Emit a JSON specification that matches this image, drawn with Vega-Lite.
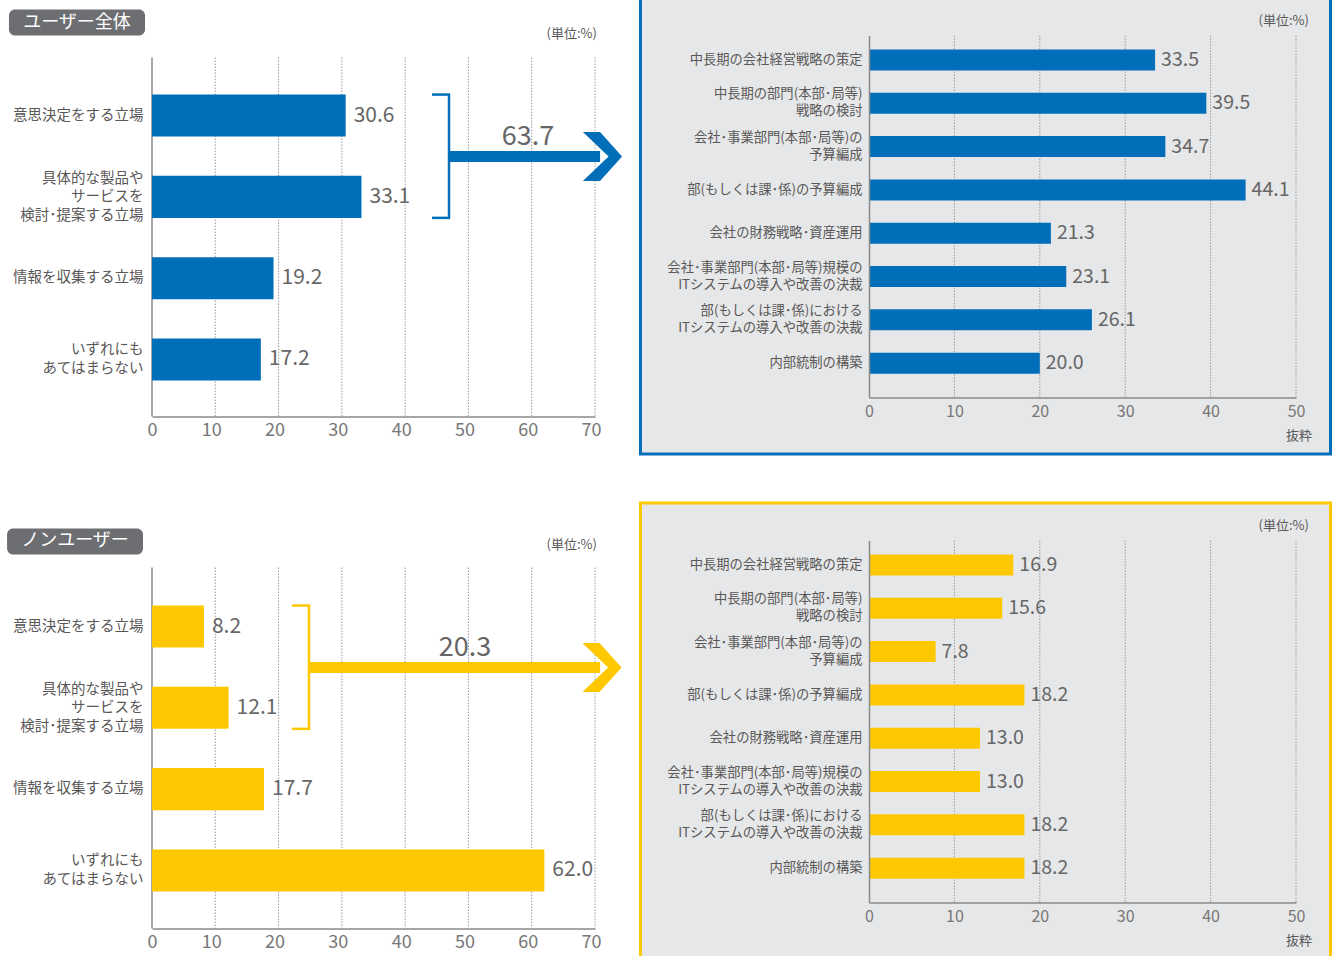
{
  "$schema": "https://vega.github.io/schema/vega-lite/v6.json",
  "padding": {"left": 7, "top": -4.5, "right": 0, "bottom": 0},
  "config": {"view": {"stroke": null}, "font": "Noto Sans CJK JP"},
  "datasets": {
    "userAll": [
      {"cat": "意思決定をする立場", "v": 30.6},
      {"cat": "具体的な製品や|サービスを|検討･提案する立場", "v": 33.1},
      {"cat": "情報を収集する立場", "v": 19.2},
      {"cat": "いずれにも|あてはまらない", "v": 17.2}
    ],
    "nonUser": [
      {"cat": "意思決定をする立場", "v": 8.2},
      {"cat": "具体的な製品や|サービスを|検討･提案する立場", "v": 12.1},
      {"cat": "情報を収集する立場", "v": 17.7},
      {"cat": "いずれにも|あてはまらない", "v": 62.0}
    ],
    "userDetail": [
      {"cat": "中長期の会社経営戦略の策定", "v": 33.5},
      {"cat": "中長期の部門(本部･局等)|戦略の検討", "v": 39.5},
      {"cat": "会社･事業部門(本部･局等)の|予算編成", "v": 34.7},
      {"cat": "部(もしくは課･係)の予算編成", "v": 44.1},
      {"cat": "会社の財務戦略･資産運用", "v": 21.3},
      {"cat": "会社･事業部門(本部･局等)規模の|ITシステムの導入や改善の決裁", "v": 23.1},
      {"cat": "部(もしくは課･係)における|ITシステムの導入や改善の決裁", "v": 26.1},
      {"cat": "内部統制の構築", "v": 20.0}
    ],
    "nonDetail": [
      {"cat": "中長期の会社経営戦略の策定", "v": 16.9},
      {"cat": "中長期の部門(本部･局等)|戦略の検討", "v": 15.6},
      {"cat": "会社･事業部門(本部･局等)の|予算編成", "v": 7.8},
      {"cat": "部(もしくは課･係)の予算編成", "v": 18.2},
      {"cat": "会社の財務戦略･資産運用", "v": 13.0},
      {"cat": "会社･事業部門(本部･局等)規模の|ITシステムの導入や改善の決裁", "v": 13.0},
      {"cat": "部(もしくは課･係)における|ITシステムの導入や改善の決裁", "v": 18.2},
      {"cat": "内部統制の構築", "v": 18.2}
    ],
    "ticksL": [{"t": 10}, {"t": 20}, {"t": 30}, {"t": 40}, {"t": 50}, {"t": 60}, {"t": 70}],
    "ticksR": [{"t": 10}, {"t": 20}, {"t": 30}, {"t": 40}, {"t": 50}],
    "one": [{}],
    "totalUser": [{"group": "ユーザー全体", "total": 63.7}],
    "totalNon": [{"group": "ノンユーザー", "total": 20.3}]
  },
  "columns": 2,
  "spacing": {"row": 124, "column": 274},
  "bounds": "flush",
  "align": "each",
  "concat": [
    {
      "width": 443, "height": 381,
      "layer": [
        {"data": {"name": "ticksL"}, "mark": {"type": "rule", "color": "#9a9a9a", "strokeWidth": 1, "strokeDash": [1.5, 1.5]},
         "encoding": {"x": {"field": "t", "type": "quantitative", "title": null}, "y": {"datum": "意思決定をする立場", "bandPosition": -0.881}, "y2": {"datum": "いずれにも|あてはまらない", "bandPosition": 1.86}}},
        {"data": {"name": "one"}, "mark": {"type": "rule", "color": "#8a8a8a", "strokeWidth": 1.5},
         "encoding": {"x": {"datum": 0, "type": "quantitative"}, "y": {"datum": "意思決定をする立場", "bandPosition": -0.881}, "y2": {"datum": "いずれにも|あてはまらない", "bandPosition": 1.86}}},
        {"data": {"name": "userAll"}, "mark": {"type": "bar", "color": "#006eb9"},
         "encoding": {
           "x": {"field": "v", "type": "quantitative", "scale": {"domain": [0, 70], "nice": false},
                 "axis": {"title": null, "values": [0, 10, 20, 30, 40, 50, 60, 70], "grid": false, "ticks": false, "domainColor": "#8a8a8a", "domainWidth": 1.5, "labelFontSize": 18, "labelColor": "#777777", "labelPadding": 5, "labelFlush": false,
                          "labelOffset": {"condition": {"test": "datum.value == 0", "value": 0}, "value": -4}}},
           "y": {"field": "cat", "type": "nominal", "scale": {"domain": ["意思決定をする立場", "具体的な製品や|サービスを|検討･提案する立場", "情報を収集する立場", "いずれにも|あてはまらない"], "paddingInner": 0.483, "paddingOuter": 0.585, "align": 0.621},
                 "axis": {"title": null, "domain": false, "ticks": false, "labelFontSize": 14.5, "labelColor": "#595757", "labelPadding": 9, "labelLimit": 0, "labelLineHeight": 18.5, "labelExpr": "split(datum.label, '|')",
                          "labelBaseline": {"condition": {"test": "indexof(datum.label, '|') >= 0", "value": "line-bottom"}, "value": "middle"},
                          "labelOffset": {"condition": {"test": "length(split(datum.label, '|')) > 2", "value": -9.25}, "value": 0}}}
         }},
        {"data": {"name": "userAll"}, "mark": {"type": "text", "align": "left", "dx": 8, "fontSize": 21, "color": "#666666"},
         "encoding": {"x": {"field": "v", "type": "quantitative"}, "y": {"field": "cat", "type": "nominal"}, "text": {"field": "v", "format": ".1f"}}},
        {"data": {"name": "one"}, "mark": {"type": "rule", "color": "#006eb9", "strokeWidth": 2.5},
         "encoding": {"x": {"datum": 46.93}, "y": {"datum": "意思決定をする立場", "bandPosition": 0}, "y2": {"datum": "具体的な製品や|サービスを|検討･提案する立場", "bandPosition": 1}}},
        {"data": {"name": "one"}, "mark": {"type": "rule", "color": "#006eb9", "strokeWidth": 2.5},
         "encoding": {"x": {"datum": 44.24}, "x2": {"datum": 47.1}, "y": {"datum": "意思決定をする立場", "bandPosition": 0}}},
        {"data": {"name": "one"}, "mark": {"type": "rule", "color": "#006eb9", "strokeWidth": 2.5},
         "encoding": {"x": {"datum": 44.24}, "x2": {"datum": 47.1}, "y": {"datum": "具体的な製品や|サービスを|検討･提案する立場", "bandPosition": 1}}},
        {"data": {"name": "one"}, "mark": {"type": "rule", "color": "#006eb9", "strokeWidth": 11},
         "encoding": {"x": {"datum": 46.93}, "x2": {"datum": 70.8}, "y": {"datum": "意思決定をする立場", "bandPosition": 1.476}}},
        {"data": {"name": "one"}, "mark": {"type": "point", "shape": "M-0.8,-1L-0.1,-1L0.8,0L-0.1,1L-0.8,1L0.25,0Z", "size": 2401, "filled": true, "opacity": 1, "color": "#006eb9", "strokeWidth": 0},
         "encoding": {"x": {"datum": 71.18}, "y": {"datum": "意思決定をする立場", "bandPosition": 1.476}}},
        {"data": {"name": "totalUser"}, "mark": {"type": "text", "fontSize": 27, "color": "#666666", "baseline": "middle"},
         "encoding": {"x": {"datum": 59.4}, "y": {"datum": "意思決定をする立場", "bandPosition": 1.02}, "text": {"field": "total", "format": ".1f"}}},
        {"data": {"name": "totalUser"}, "mark": {"type": "rect", "color": "#6d6e71", "cornerRadius": 6},
         "encoding": {"x": {"datum": -22.6}, "x2": {"datum": -1.1}, "y": {"datum": "意思決定をする立場", "bandPosition": -2.024}, "y2": {"datum": "意思決定をする立場", "bandPosition": -1.405}}},
        {"data": {"name": "totalUser"}, "mark": {"type": "text", "fontSize": 18, "color": "#ffffff", "baseline": "middle"},
         "encoding": {"x": {"datum": -11.85}, "y": {"datum": "意思決定をする立場", "bandPosition": -1.714}, "text": {"field": "group"}}},
        {"data": {"name": "one"}, "mark": {"type": "text", "text": "(単位:%)", "align": "right", "dx": 2, "fontSize": 13, "color": "#595757", "baseline": "middle"},
         "encoding": {"x": {"datum": 70}, "y": {"datum": "意思決定をする立場", "bandPosition": -1.452}}}
      ]
    },
    {
      "width": 427, "height": 362,
      "layer": [
        {"data": {"name": "one"}, "mark": {"type": "rect", "fill": "#e6e7e8", "stroke": "#006eb9", "strokeWidth": 3},
         "encoding": {"x": {"datum": -26.76, "type": "quantitative"}, "x2": {"datum": 54.04}, "y": {"datum": "中長期の会社経営戦略の策定", "bandPosition": -2.476}, "y2": {"datum": "内部統制の構築", "bandPosition": 4.83}}},
        {"data": {"name": "ticksR"}, "mark": {"type": "rule", "color": "#9a9a9a", "strokeWidth": 1, "strokeDash": [1.5, 1.5]},
         "encoding": {"x": {"field": "t", "type": "quantitative", "title": null}}},
        {"data": {"name": "userDetail"}, "mark": {"type": "bar", "color": "#006eb9"},
         "encoding": {
           "x": {"field": "v", "type": "quantitative", "scale": {"domain": [0, 50], "nice": false},
                 "axis": {"title": null, "values": [0, 10, 20, 30, 40, 50], "grid": false, "ticks": false, "domainColor": "#8a8a8a", "domainWidth": 1.5, "labelFontSize": 16, "labelColor": "#777777", "labelPadding": 6, "labelFlush": false, "zindex": 1}},
           "y": {"field": "cat", "type": "nominal", "scale": {"domain": ["中長期の会社経営戦略の策定", "中長期の部門(本部･局等)|戦略の検討", "会社･事業部門(本部･局等)の|予算編成", "部(もしくは課･係)の予算編成", "会社の財務戦略･資産運用", "会社･事業部門(本部･局等)規模の|ITシステムの導入や改善の決裁", "部(もしくは課･係)における|ITシステムの導入や改善の決裁", "内部統制の構築"], "paddingInner": 0.515, "paddingOuter": 0.4375, "align": 0.37},
                 "axis": {"title": null, "domain": true, "domainColor": "#8a8a8a", "domainWidth": 1.5, "ticks": false, "labelFontSize": 13.3, "labelColor": "#595757", "labelPadding": 7, "labelLimit": 0, "labelLineHeight": 17, "labelExpr": "split(datum.label, '|')", "zindex": 1,
                          "labelBaseline": {"condition": {"test": "indexof(datum.label, '|') >= 0", "value": "line-bottom"}, "value": "middle"}}}
         }},
        {"data": {"name": "userDetail"}, "mark": {"type": "text", "align": "left", "dx": 6, "fontSize": 19.5, "color": "#666666"},
         "encoding": {"x": {"field": "v", "type": "quantitative"}, "y": {"field": "cat", "type": "nominal"}, "text": {"field": "v", "format": ".1f"}}},
        {"data": {"name": "one"}, "mark": {"type": "text", "text": "(単位:%)", "align": "right", "fontSize": 13, "color": "#595757", "baseline": "middle"},
         "encoding": {"x": {"datum": 51.52}, "y": {"datum": "中長期の会社経営戦略の策定", "bandPosition": -1.381}}},
        {"data": {"name": "one"}, "mark": {"type": "text", "text": "抜粋", "align": "center", "fontSize": 13, "color": "#595757", "baseline": "middle"},
         "encoding": {"x": {"datum": 50.35}, "y": {"datum": "内部統制の構築", "bandPosition": 3.95}}}
      ]
    },
    {
      "width": 443, "height": 388,
      "layer": [
        {"data": {"name": "ticksL"}, "mark": {"type": "rule", "color": "#9a9a9a", "strokeWidth": 1, "strokeDash": [1.5, 1.5]},
         "encoding": {"x": {"field": "t", "type": "quantitative", "title": null}, "y": {"datum": "意思決定をする立場", "bandPosition": -0.905}, "y2": {"datum": "いずれにも|あてはまらない", "bandPosition": 1.883}}},
        {"data": {"name": "one"}, "mark": {"type": "rule", "color": "#8a8a8a", "strokeWidth": 1.5},
         "encoding": {"x": {"datum": 0, "type": "quantitative"}, "y": {"datum": "意思決定をする立場", "bandPosition": -0.905}, "y2": {"datum": "いずれにも|あてはまらない", "bandPosition": 1.883}}},
        {"data": {"name": "nonUser"}, "mark": {"type": "bar", "color": "#fdc800"},
         "encoding": {
           "x": {"field": "v", "type": "quantitative", "scale": {"domain": [0, 70], "nice": false},
                 "axis": {"title": null, "values": [0, 10, 20, 30, 40, 50, 60, 70], "grid": false, "ticks": false, "domainColor": "#8a8a8a", "domainWidth": 1.5, "labelFontSize": 18, "labelColor": "#777777", "labelPadding": 5, "labelFlush": false,
                          "labelOffset": {"condition": {"test": "datum.value == 0", "value": 0}, "value": -4}}},
           "y": {"field": "cat", "type": "nominal", "scale": {"domain": ["意思決定をする立場", "具体的な製品や|サービスを|検討･提案する立場", "情報を収集する立場", "いずれにも|あてはまらない"], "paddingInner": 0.483, "paddingOuter": 0.628, "align": 0.637},
                 "axis": {"title": null, "domain": false, "ticks": false, "labelFontSize": 14.5, "labelColor": "#595757", "labelPadding": 9, "labelLimit": 0, "labelLineHeight": 18.5, "labelExpr": "split(datum.label, '|')",
                          "labelBaseline": {"condition": {"test": "indexof(datum.label, '|') >= 0", "value": "line-bottom"}, "value": "middle"},
                          "labelOffset": {"condition": {"test": "length(split(datum.label, '|')) > 2", "value": -9.25}, "value": 0}}}
         }},
        {"data": {"name": "nonUser"}, "mark": {"type": "text", "align": "left", "dx": 8, "fontSize": 21, "color": "#666666"},
         "encoding": {"x": {"field": "v", "type": "quantitative"}, "y": {"field": "cat", "type": "nominal"}, "text": {"field": "v", "format": ".1f"}}},
        {"data": {"name": "one"}, "mark": {"type": "rule", "color": "#fdc800", "strokeWidth": 2.5},
         "encoding": {"x": {"datum": 24.8}, "y": {"datum": "意思決定をする立場", "bandPosition": 0}, "y2": {"datum": "具体的な製品や|サービスを|検討･提案する立場", "bandPosition": 1}}},
        {"data": {"name": "one"}, "mark": {"type": "rule", "color": "#fdc800", "strokeWidth": 2.5},
         "encoding": {"x": {"datum": 22.1}, "x2": {"datum": 25.0}, "y": {"datum": "意思決定をする立場", "bandPosition": 0}}},
        {"data": {"name": "one"}, "mark": {"type": "rule", "color": "#fdc800", "strokeWidth": 2.5},
         "encoding": {"x": {"datum": 22.1}, "x2": {"datum": 25.0}, "y": {"datum": "具体的な製品や|サービスを|検討･提案する立場", "bandPosition": 1}}},
        {"data": {"name": "one"}, "mark": {"type": "rule", "color": "#fdc800", "strokeWidth": 11},
         "encoding": {"x": {"datum": 24.8}, "x2": {"datum": 70.8}, "y": {"datum": "意思決定をする立場", "bandPosition": 1.476}}},
        {"data": {"name": "one"}, "mark": {"type": "point", "shape": "M-0.8,-1L-0.1,-1L0.8,0L-0.1,1L-0.8,1L0.25,0Z", "size": 2401, "filled": true, "opacity": 1, "color": "#fdc800", "strokeWidth": 0},
         "encoding": {"x": {"datum": 71.1}, "y": {"datum": "意思決定をする立場", "bandPosition": 1.476}}},
        {"data": {"name": "totalNon"}, "mark": {"type": "text", "fontSize": 27, "color": "#666666", "baseline": "middle"},
         "encoding": {"x": {"datum": 49.45}, "y": {"datum": "意思決定をする立場", "bandPosition": 1.02}, "text": {"field": "total", "format": ".1f"}}},
        {"data": {"name": "totalNon"}, "mark": {"type": "rect", "color": "#6d6e71", "cornerRadius": 6},
         "encoding": {"x": {"datum": -22.9}, "x2": {"datum": -1.42}, "y": {"datum": "意思決定をする立場", "bandPosition": -1.833}, "y2": {"datum": "意思決定をする立場", "bandPosition": -1.214}}},
        {"data": {"name": "totalNon"}, "mark": {"type": "text", "fontSize": 18, "color": "#ffffff", "baseline": "middle"},
         "encoding": {"x": {"datum": -12.17}, "y": {"datum": "意思決定をする立場", "bandPosition": -1.524}, "text": {"field": "group"}}},
        {"data": {"name": "one"}, "mark": {"type": "text", "text": "(単位:%)", "align": "right", "dx": 2, "fontSize": 13, "color": "#595757", "baseline": "middle"},
         "encoding": {"x": {"datum": 70}, "y": {"datum": "意思決定をする立場", "bandPosition": -1.452}}}
      ]
    },
    {
      "width": 427, "height": 362,
      "layer": [
        {"data": {"name": "one"}, "mark": {"type": "rect", "fill": "#e6e7e8", "stroke": "#fdc800", "strokeWidth": 3},
         "encoding": {"x": {"datum": -26.76, "type": "quantitative"}, "x2": {"datum": 54.04}, "y": {"datum": "中長期の会社経営戦略の策定", "bandPosition": -2.452}, "y2": {"datum": "内部統制の構築", "bandPosition": 6.8}}},
        {"data": {"name": "ticksR"}, "mark": {"type": "rule", "color": "#9a9a9a", "strokeWidth": 1, "strokeDash": [1.5, 1.5]},
         "encoding": {"x": {"field": "t", "type": "quantitative", "title": null}}},
        {"data": {"name": "nonDetail"}, "mark": {"type": "bar", "color": "#fdc800"},
         "encoding": {
           "x": {"field": "v", "type": "quantitative", "scale": {"domain": [0, 50], "nice": false},
                 "axis": {"title": null, "values": [0, 10, 20, 30, 40, 50], "grid": false, "ticks": false, "domainColor": "#8a8a8a", "domainWidth": 1.5, "labelFontSize": 16, "labelColor": "#777777", "labelPadding": 6, "labelFlush": false, "zindex": 1}},
           "y": {"field": "cat", "type": "nominal", "scale": {"domain": ["中長期の会社経営戦略の策定", "中長期の部門(本部･局等)|戦略の検討", "会社･事業部門(本部･局等)の|予算編成", "部(もしくは課･係)の予算編成", "会社の財務戦略･資産運用", "会社･事業部門(本部･局等)規模の|ITシステムの導入や改善の決裁", "部(もしくは課･係)における|ITシステムの導入や改善の決裁", "内部統制の構築"], "paddingInner": 0.515, "paddingOuter": 0.4375, "align": 0.37},
                 "axis": {"title": null, "domain": true, "domainColor": "#8a8a8a", "domainWidth": 1.5, "ticks": false, "labelFontSize": 13.3, "labelColor": "#595757", "labelPadding": 7, "labelLimit": 0, "labelLineHeight": 17, "labelExpr": "split(datum.label, '|')", "zindex": 1,
                          "labelBaseline": {"condition": {"test": "indexof(datum.label, '|') >= 0", "value": "line-bottom"}, "value": "middle"}}}
         }},
        {"data": {"name": "nonDetail"}, "mark": {"type": "text", "align": "left", "dx": 6, "fontSize": 19.5, "color": "#666666"},
         "encoding": {"x": {"field": "v", "type": "quantitative"}, "y": {"field": "cat", "type": "nominal"}, "text": {"field": "v", "format": ".1f"}}},
        {"data": {"name": "one"}, "mark": {"type": "text", "text": "(単位:%)", "align": "right", "fontSize": 13, "color": "#595757", "baseline": "middle"},
         "encoding": {"x": {"datum": 51.52}, "y": {"datum": "中長期の会社経営戦略の策定", "bandPosition": -1.381}}},
        {"data": {"name": "one"}, "mark": {"type": "text", "text": "抜粋", "align": "center", "fontSize": 13, "color": "#595757", "baseline": "middle"},
         "encoding": {"x": {"datum": 50.35}, "y": {"datum": "内部統制の構築", "bandPosition": 3.95}}}
      ]
    }
  ]
}
